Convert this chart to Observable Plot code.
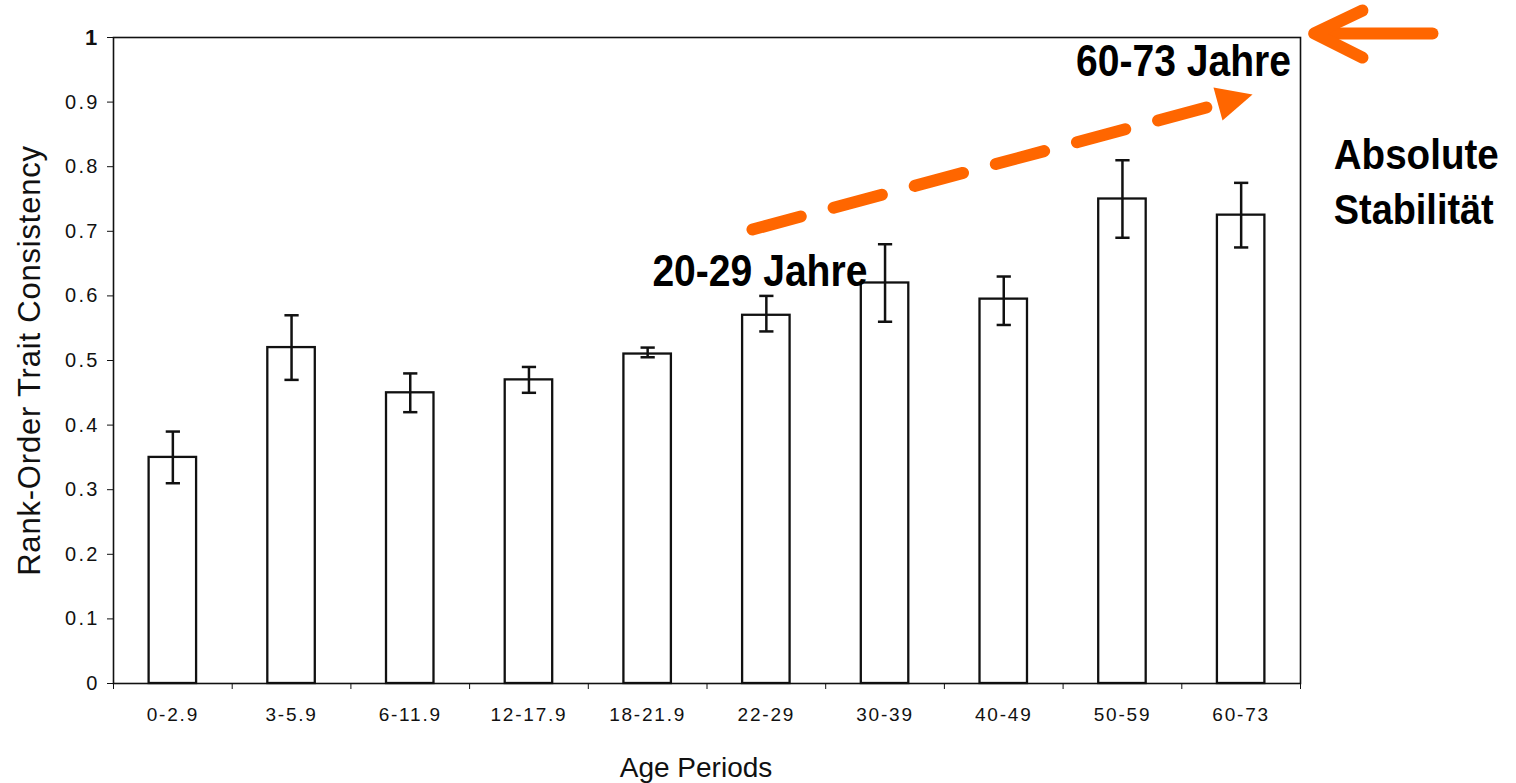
<!DOCTYPE html>
<html><head><meta charset="utf-8">
<script src="https://cdn.jsdelivr.net/npm/d3@7"></script>
<script src="https://cdn.jsdelivr.net/npm/@observablehq/plot@0.6"></script>
<style>html,body{margin:0;padding:0;background:#fff;overflow:hidden;}</style>
</head><body><div id="chart"></div>
<script>
// ---- data ----
const categories = ["0-2.9","3-5.9","6-11.9","12-17.9","18-21.9","22-29","30-39","40-49","50-59","60-73"];
const consistency = [0.35, 0.52, 0.45, 0.47, 0.51, 0.57, 0.62, 0.595, 0.75, 0.725];
const errLow  = [0.31, 0.47, 0.42, 0.45, 0.505, 0.545, 0.56, 0.555, 0.69, 0.675];
const errHigh = [0.39, 0.57, 0.48, 0.49, 0.52, 0.60, 0.68, 0.63, 0.81, 0.775];
const yTicks = [0, 0.1, 0.2, 0.3, 0.4, 0.5, 0.6, 0.7, 0.8, 0.9, 1];
const yTickLabels = ["0","0.1","0.2","0.3","0.4","0.5","0.6","0.7","0.8","0.9","1"];
const xBoundaries = [-0.5, 0.5, 1.5, 2.5, 3.5, 4.5, 5.5, 6.5, 7.5, 8.5, 9.5];
const xLabel = "Age Periods";
const yLabel = "Rank-Order Trait Consistency";

// annotations (in data units: x = category index, y = consistency)
const annoEnd = [{text: "60-73 Jahre", x: 9.42, y: 0.94, len: 215, size: 44}];
const annoStart = [
  {text: "20-29 Jahre", x: 4.04, y: 0.616, len: 215, size: 44},
  {text: "Absolute", x: 9.78, y: 0.797, len: 165, size: 42},
  {text: "Stabilität", x: 9.78, y: 0.712, len: 160, size: 42}
];
const dashedShaft = [{x: 4.883, y: 0.7028}, {x: 8.801, y: 0.8963}];
const dashedHead = [{x: 8.767, y: 0.9226}, {x: 9.096, y: 0.9118}, {x: 8.843, y: 0.8715}, {x: 8.767, y: 0.9226}];
const solidArrow = [
  {x: 10.612, y: 1.0062, z: "shaft"}, {x: 9.63, y: 1.0062, z: "shaft"},
  {x: 10.022, y: 1.0418, z: "head"}, {x: 9.615, y: 1.0062, z: "head"}, {x: 10.022, y: 0.969, z: "head"}
];

const rows = categories.map((c, i) => ({i, c, v: consistency[i], lo: errLow[i], hi: errHigh[i]}));
const ORANGE = "#ff6600";
const FONT = "'Liberation Sans', Arial, sans-serif";

const annoStyle = {x: "x", y: "y", text: "text", lineAnchor: "bottom", fontFamily: FONT, fontWeight: "bold", fill: "#000"};

const chart = Plot.plot({
  width: 1516,
  height: 783,
  marginTop: 37,
  marginLeft: 113,
  marginRight: 216,
  marginBottom: 100,
  style: {background: "#fff", fontFamily: FONT, color: "#111"},
  x: {type: "linear", domain: [-0.5, 9.5], axis: null},
  y: {domain: [0, 1], axis: null},
  marks: [
    Plot.rect(rows, {x1: d => d.i - 0.2, x2: d => d.i + 0.2, y1: 0, y2: "v", fill: "white", stroke: "#111", strokeWidth: 2.3}),
    Plot.ruleX(rows, {x: "i", y1: "lo", y2: "hi", stroke: "#111", strokeWidth: 2.5}),
    Plot.link(rows, {x1: d => d.i - 0.06, x2: d => d.i + 0.06, y1: "lo", y2: "lo", stroke: "#111", strokeWidth: 2.5}),
    Plot.link(rows, {x1: d => d.i - 0.06, x2: d => d.i + 0.06, y1: "hi", y2: "hi", stroke: "#111", strokeWidth: 2.5}),
    Plot.frame({stroke: "#111", strokeWidth: 1.6}),
    Plot.axisY({ticks: yTicks, tickFormat: d => yTickLabels[yTicks.indexOf(d)], tickSize: 6, tickPadding: 8, fontSize: 20, label: null, stroke: "#111"}),
    Plot.axisX({ticks: xBoundaries, tickFormat: () => "", tickSize: 6, label: null, stroke: "#111"}),
    Plot.axisX({ticks: categories.map((c, i) => i), tickFormat: i => categories[i], tickSize: 0, tickPadding: 24, fontSize: 19, label: null}),
    Plot.text([xLabel], {frameAnchor: "bottom", text: d => d, dy: 93, dx: -11, lineAnchor: "bottom", fontSize: 28, fill: "#111"}),
    Plot.text([yLabel], {frameAnchor: "left", text: d => d, dx: -83, dy: 0, rotate: -90, textAnchor: "middle", lineAnchor: "middle", fontSize: 31, fill: "#111"}),
    // annotations
    Plot.line(dashedShaft, {x: "x", y: "y", stroke: ORANGE, strokeWidth: 12, strokeDasharray: "50 34"}),
    Plot.line(dashedHead, {x: "x", y: "y", fill: ORANGE, stroke: "none"}),
    Plot.line(solidArrow, {x: "x", y: "y", z: "z", stroke: ORANGE, strokeWidth: 12, strokeLinecap: "round", strokeLinejoin: "round"}),
    Plot.text(annoEnd, {...annoStyle, fontSize: 44, textAnchor: "end"}),
    Plot.text(annoStart.slice(0, 1), {...annoStyle, fontSize: 44, textAnchor: "start"}),
    Plot.text(annoStart.slice(1), {...annoStyle, fontSize: 42, textAnchor: "start"})
  ]
});

// typographic touches: compress annotation text to its measured length (narrow look), widen axis label spacing
const lenByText = new Map([...annoEnd, ...annoStart].map(d => [d.text, d.len]));
chart.querySelectorAll("text").forEach(t => {
  const s = t.textContent;
  if (lenByText.has(s)) {
    t.setAttribute("textLength", lenByText.get(s));
    t.setAttribute("lengthAdjust", "spacingAndGlyphs");
  } else if (s === yLabel) {
    t.setAttribute("letter-spacing", "0.8");
  } else if (categories.includes(s)) {
    t.setAttribute("letter-spacing", "1.8");
  } else if (yTickLabels.includes(s)) {
    t.setAttribute("letter-spacing", "2.2");
    if (s === "1") { t.setAttribute("font-weight", "bold"); t.setAttribute("font-size", "22"); }
  }
});
document.getElementById("chart").appendChild(chart);
</script>
</body></html>
